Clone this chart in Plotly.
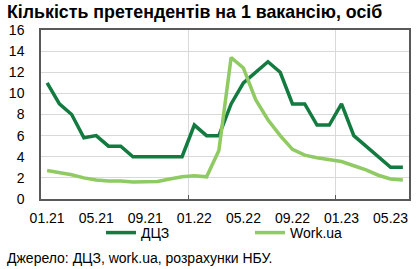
import plotly.graph_objects as go

months = ["01.21","02.21","03.21","04.21","05.21","06.21","07.21","08.21","09.21","10.21","11.21","12.21",
          "01.22","02.22","03.22","04.22","05.22","06.22","07.22","08.22","09.22","10.22","11.22","12.22",
          "01.23","02.23","03.23","04.23","05.23","06.23"]
dcz = [11.0, 9.0, 8.0, 5.8, 6.0, 5.0, 5.0, 4.0, 4.0, 4.0, 4.0, 4.0,
       7.0, 6.0, 6.0, 9.0, 11.0, 12.0, 13.0, 12.0, 9.0, 9.0, 7.0, 7.0,
       9.0, 6.0, 5.0, 4.0, 3.0, 3.0]
workua = [2.7, 2.5, 2.3, 2.0, 1.8, 1.7, 1.7, 1.6, 1.6, 1.65, 1.9, 2.1,
          2.2, 2.1, 4.6, 13.4, 12.4, 9.4, 7.5, 6.0, 4.7, 4.15, 3.9, 3.7,
          3.55, 3.15, 2.75, 2.25, 1.9, 1.8]
tick_labels = ["01.21","05.21","09.21","01.22","05.22","09.22","01.23","05.23"]
title = "Кількість претендентів на 1 вакансію, осіб"
source = "Джерело: ДЦЗ, work.ua, розрахунки НБУ."

x = list(range(len(months)))
tickvals = [months.index(t) for t in tick_labels]
year_bounds = [months.index("01.22") - 0.5, months.index("01.23") - 0.5]

fig = go.Figure()
fig.add_trace(go.Scatter(x=x, y=dcz, mode="lines", name="ДЦЗ", legend="legend",
                         line=dict(color="#137a40", width=3.5)))
fig.add_trace(go.Scatter(x=x, y=workua, mode="lines", name="Work.ua", legend="legend2",
                         line=dict(color="#8fca62", width=3.5)))

font = "Liberation Sans, Arial, sans-serif"
L, R, T, B = 41, 7, 30, 70
W, H = 416, 269
pw, ph = W - L - R, H - T - B

def px_x(v):
    return (v - L) / pw

def px_y(v):
    return (H - B - v) / ph

leg_common = dict(orientation="h", xanchor="left", yanchor="top",
                  font=dict(size=14), itemwidth=30, bgcolor="rgba(0,0,0,0)")

fig.update_layout(
    width=W, height=H,
    margin=dict(l=L, r=R, t=T, b=B, autoexpand=False),
    paper_bgcolor="white", plot_bgcolor="white",
    font=dict(family=font, size=14, color="#000"),
    showlegend=True,
    legend=dict(x=px_x(101), y=px_y(217), **leg_common),
    legend2=dict(x=px_x(250), y=px_y(217), **leg_common),
    annotations=[
        dict(text="<b>" + title + "</b>", x=px_x(5), y=px_y(12), xref="paper", yref="paper",
             showarrow=False, xanchor="left", yanchor="middle", font=dict(size=17.8)),
        dict(text=source, x=px_x(5), y=px_y(258), xref="paper", yref="paper",
             showarrow=False, xanchor="left", yanchor="middle", font=dict(size=14)),
    ],
)

fig.update_xaxes(range=[-0.5, len(months) - 0.5], tickmode="array", tickvals=tickvals,
                 ticktext=tick_labels, showgrid=False, ticks="", zeroline=False,
                 showline=True, linecolor="#595959", linewidth=1.5, mirror=True,
                 ticklabelstandoff=5,
                 minor=dict(tickmode="array", tickvals=year_bounds, showgrid=True,
                            gridcolor="#d9d9d9", gridwidth=1, ticks="inside",
                            ticklen=4, tickcolor="#595959"),
                 tickfont=dict(size=14))
fig.update_yaxes(range=[0, 16], dtick=2, showgrid=True, gridcolor="#d9d9d9", gridwidth=1,
                 zeroline=False, showline=True, linecolor="#595959", linewidth=1.5,
                 mirror=True, ticks="", ticklabelstandoff=12, tickfont=dict(size=14))

fig.write_html("out.html")
